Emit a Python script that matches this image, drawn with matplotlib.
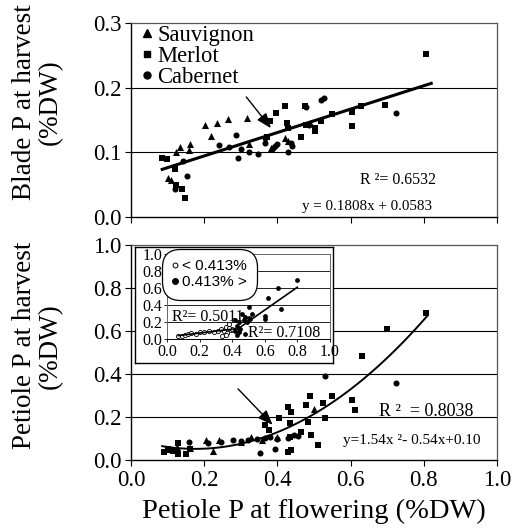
import numpy as np
import matplotlib
matplotlib.use("Agg")
import matplotlib.pyplot as plt
from matplotlib.lines import Line2D

plt.rcParams['font.family'] = ['Liberation Serif', 'DejaVu Serif']

# ---------------- data: top panel (blade P at harvest) ----------------
sauv_top_x = [0.102, 0.110, 0.122, 0.133, 0.157, 0.162, 0.203, 0.218, 0.235, 0.264, 0.317, 0.323, 0.383, 0.421, 0.428, 0.488]
sauv_top_y = [0.060, 0.058, 0.101, 0.109, 0.104, 0.113, 0.142, 0.125, 0.145, 0.151, 0.153, 0.113, 0.106, 0.122, 0.118, 0.146]

merl_top_x = [0.084, 0.097, 0.120, 0.124, 0.138, 0.147, 0.372, 0.380, 0.395, 0.421, 0.426, 0.430, 0.465, 0.476,
              0.477, 0.503, 0.503, 0.518, 0.549, 0.604, 0.604, 0.627, 0.693, 0.805]
merl_top_y = [0.092, 0.089, 0.074, 0.049, 0.043, 0.030, 0.124, 0.148, 0.160, 0.171, 0.145, 0.138, 0.123, 0.171,
              0.142, 0.137, 0.133, 0.149, 0.159, 0.163, 0.140, 0.171, 0.173, 0.252]

cab_top_x = [0.120, 0.143, 0.152, 0.241, 0.268, 0.287, 0.291, 0.323, 0.346, 0.367, 0.387, 0.393, 0.400, 0.428,
             0.437, 0.440, 0.479, 0.486, 0.520, 0.526, 0.723, 0.365, 0.300]
cab_top_y = [0.044, 0.086, 0.064, 0.112, 0.109, 0.127, 0.092, 0.101, 0.098, 0.115, 0.106, 0.110, 0.113, 0.101,
             0.114, 0.110, 0.170, 0.142, 0.181, 0.184, 0.160, 0.122, 0.105]

top_fit_coef = [0.1808, 0.0583]          # y = a x + b
top_fit_range = [0.085, 0.82]

# ---------------- data: bottom panel (petiole P at harvest) ----------------
merl_bot_x = [0.090, 0.100, 0.115, 0.127, 0.127, 0.150, 0.160, 0.366, 0.378, 0.404, 0.428, 0.433, 0.433, 0.438,
              0.428, 0.437, 0.465, 0.479, 0.483, 0.488, 0.492, 0.510, 0.524, 0.529, 0.549, 0.604, 0.611, 0.632,
              0.698, 0.805]
merl_bot_y = [0.039, 0.054, 0.045, 0.078, 0.028, 0.028, 0.050, 0.163, 0.140, 0.197, 0.248, 0.171, 0.110, 0.225,
              0.039, 0.048, 0.129, 0.256, 0.178, 0.299, 0.119, 0.070, 0.264, 0.197, 0.299, 0.279, 0.233, 0.484,
              0.611, 0.687]

cab_bot_x = [0.159, 0.210, 0.246, 0.278, 0.300, 0.320, 0.345, 0.351, 0.365, 0.380, 0.394, 0.400, 0.430, 0.445,
             0.455, 0.529, 0.725]
cab_bot_y = [0.085, 0.082, 0.085, 0.096, 0.090, 0.095, 0.100, 0.034, 0.105, 0.110, 0.054, 0.100, 0.105, 0.115,
             0.112, 0.392, 0.360]

sauv_bot_x = [0.100, 0.125, 0.160, 0.205, 0.225, 0.239, 0.300, 0.328, 0.358, 0.400, 0.501]
sauv_bot_y = [0.050, 0.060, 0.055, 0.093, 0.045, 0.096, 0.085, 0.108, 0.095, 0.110, 0.236]

bot_fit_coef = [1.54, -0.54, 0.10]       # y = a x^2 + b x + c
bot_fit_range = [0.085, 0.81]

# ---------------- data: inset ----------------
inset_low_x = [0.07, 0.09, 0.11, 0.13, 0.15, 0.18, 0.20, 0.23, 0.26, 0.29, 0.31, 0.33, 0.34, 0.35, 0.36, 0.37,
               0.38, 0.39, 0.40, 0.41, 0.36, 0.38]
inset_low_y = [0.04, 0.04, 0.05, 0.06, 0.07, 0.06, 0.08, 0.08, 0.09, 0.08, 0.10, 0.12, 0.03, 0.10, 0.14, 0.07,
               0.18, 0.11, 0.12, 0.22, 0.05, 0.13]
inset_high_x = [0.42, 0.42, 0.43, 0.43, 0.44, 0.45, 0.46, 0.47, 0.48, 0.48, 0.49, 0.50, 0.50, 0.51, 0.52, 0.60,
                0.60, 0.62, 0.68, 0.70, 0.80, 0.44]
inset_high_y = [0.22, 0.10, 0.05, 0.15, 0.20, 0.12, 0.29, 0.22, 0.26, 0.06, 0.20, 0.25, 0.38, 0.23, 0.30, 0.23,
                0.27, 0.48, 0.60, 0.35, 0.70, 0.08]
inset_low_fit = [0.229, 0.024]
inset_low_range = [0.07, 0.42]
inset_high_fit = [1.342, -0.464]
inset_high_range = [0.42, 0.80]

x_ticks = [0.0, 0.2, 0.4, 0.6, 0.8, 1.0]
top_yticks = [0.0, 0.1, 0.2, 0.3]
bot_yticks = [0.0, 0.2, 0.4, 0.6, 0.8, 1.0]
legend_labels = ['Sauvignon', 'Merlot', 'Cabernet']
inset_labels = ['< 0.413%', '0.413% >']

# ---------------- figure ----------------
fig = plt.figure(figsize=(5.2, 5.32), dpi=100)
ax1 = fig.add_axes([0.252, 0.592, 0.704, 0.365])
ax2 = fig.add_axes([0.252, 0.135, 0.704, 0.404])

TICK_FS = 16.5
ms_tri, ms_sq, ms_ci = 26, 17, 19


def style_axes(ax, yticks, ylim, labels_x):
    ax.set_xlim(0, 1.0)
    ax.set_ylim(*ylim)
    ax.set_xticks(x_ticks)
    ax.set_yticks(yticks)
    ax.set_yticklabels(['%.1f' % v for v in yticks], fontsize=TICK_FS)
    if labels_x:
        ax.set_xticklabels(['%.1f' % v for v in x_ticks], fontsize=TICK_FS)
    else:
        ax.set_xticklabels([])
    ax.tick_params(direction='out', length=4, width=0.8, pad=3)
    for v in yticks[1:-1]:
        ax.axhline(v, color='black', lw=0.8, zorder=0)
    for s in ['left', 'bottom']:
        ax.spines[s].set_color('black')
        ax.spines[s].set_linewidth(1.0)
    for s in ['top', 'right']:
        ax.spines[s].set_color('#555555')
        ax.spines[s].set_linewidth(0.9)


style_axes(ax1, top_yticks, (0, 0.3), False)
style_axes(ax2, bot_yticks, (0, 1.0), True)

# top scatter
ax1.scatter(sauv_top_x, sauv_top_y, marker='^', s=ms_tri, c='black', lw=0, zorder=3)
ax1.scatter(merl_top_x, merl_top_y, marker='s', s=ms_sq, c='black', lw=0, zorder=3)
ax1.scatter(cab_top_x, cab_top_y, marker='o', s=ms_ci, c='black', lw=0, zorder=3)
xs = np.linspace(top_fit_range[0], top_fit_range[1], 50)
ax1.plot(xs, np.polyval(top_fit_coef, xs), color='black', lw=2.2, zorder=4)

handles = [Line2D([], [], marker='^', color='black', ls='none', ms=6),
           Line2D([], [], marker='s', color='black', ls='none', ms=5),
           Line2D([], [], marker='o', color='black', ls='none', ms=5)]
leg = ax1.legend(handles, legend_labels, loc='upper left', frameon=False, fontsize=16.3,
                 handlelength=0.6, handletextpad=0.15, labelspacing=0.0,
                 borderaxespad=0.0, borderpad=0.0, bbox_to_anchor=(0.025, 0.99))

ax1.annotate('', xy=(0.387, 0.134), xytext=(0.31, 0.189),
             arrowprops=dict(arrowstyle='-|>,head_length=0.9,head_width=0.35', color='black', lw=1.0))
ax1.text(0.625, 0.058, 'R ²= 0.6532', fontsize=11.5, ha='left', va='center')
ax1.text(0.468, 0.016, 'y = 0.1808x + 0.0583', fontsize=10.8, ha='left', va='center')

# bottom scatter
ax2.scatter(sauv_bot_x, sauv_bot_y, marker='^', s=ms_tri, c='black', lw=0, zorder=3)
ax2.scatter(merl_bot_x, merl_bot_y, marker='s', s=ms_sq, c='black', lw=0, zorder=3)
ax2.scatter(cab_bot_x, cab_bot_y, marker='o', s=ms_ci, c='black', lw=0, zorder=3)
xs2 = np.linspace(bot_fit_range[0], bot_fit_range[1], 100)
ax2.plot(xs2, np.polyval(bot_fit_coef, xs2), color='black', lw=1.4, zorder=4)
ax2.annotate('', xy=(0.392, 0.155), xytext=(0.287, 0.341),
             arrowprops=dict(arrowstyle='-|>,head_length=0.9,head_width=0.35', color='black', lw=1.0))
ax2.text(0.677, 0.225, 'R ²  = 0.8038', fontsize=13, ha='left', va='center')
ax2.text(0.58, 0.09, 'y=1.54x ²- 0.54x+0.10', fontsize=11, ha='left', va='center')

ax2.set_xlabel('Petiole P at flowering (%DW)', fontsize=20.5, labelpad=6)

fig.text(0.0715, 0.808, 'Blade P at harvest\n(%DW)', rotation=90, ha='center', va='center',
         fontsize=19.5, multialignment='center', linespacing=1.05)
fig.text(0.0715, 0.35, 'Petiole P at harvest\n(%DW)', rotation=90, ha='center', va='center',
         fontsize=19.5, multialignment='center', linespacing=1.05)

# inset frame box
box = fig.add_axes([0.2596, 0.318, 0.3808, 0.218])
box.set_xticks([]); box.set_yticks([])
box.set_facecolor('white')
for s in box.spines.values():
    s.set_color('black'); s.set_linewidth(1.0)

ins = fig.add_axes([167 / 520, 1 - 339 / 532, 163 / 520, 85 / 532])
ins.set_xlim(0, 1.0); ins.set_ylim(0, 1.0)
ins.set_xticks(x_ticks); ins.set_yticks(bot_yticks)
ins.set_xticklabels(['%.1f' % v for v in x_ticks], fontsize=11.5)
ins.set_yticklabels(['%.1f' % v for v in bot_yticks], fontsize=11.5)
ins.tick_params(direction='out', length=2.5, width=0.6, pad=1.0)
for v in bot_yticks[1:-1]:
    ins.axhline(v, color='black', lw=0.6, zorder=0)
for s in ins.spines.values():
    s.set_color('#666666'); s.set_linewidth(0.7)
ins.spines['bottom'].set_color('black')
ins.scatter(inset_low_x, inset_low_y, marker='o', s=9, facecolors='white', edgecolors='black', lw=0.6, zorder=3)
ins.scatter(inset_high_x, inset_high_y, marker='o', s=12, c='black', lw=0, zorder=3)
xl = np.linspace(*inset_low_range, 10)
ins.plot(xl, np.polyval(inset_low_fit, xl), color='black', lw=1.2, zorder=4)
xh = np.linspace(*inset_high_range, 10)
ins.plot(xh, np.polyval(inset_high_fit, xh), color='black', lw=1.2, zorder=4)
ins.text(0.03, 0.26, 'R²= 0.5011', fontsize=11.5, ha='left', va='center')
ins.text(0.50, 0.07, 'R²= 0.7108', fontsize=11.5, ha='left', va='center')

ih = [Line2D([], [], marker='o', ls='none', mfc='white', mec='black', ms=3.5, mew=0.7),
      Line2D([], [], marker='o', ls='none', color='black', ms=4)]
ileg = ins.legend(ih, inset_labels, loc='upper left', frameon=True,
                  prop={'family': 'Liberation Sans', 'size': 11},
                  handlelength=0.4, handletextpad=0.2, labelspacing=0.1, borderpad=0.3,
                  bbox_to_anchor=(0.0, 1.0), borderaxespad=0.05, fancybox=True)
fr = ileg.get_frame()
fr.set_edgecolor('black'); fr.set_linewidth(0.9); fr.set_alpha(1)
fr.set_boxstyle('round,pad=0.4,rounding_size=1.2')

fig.savefig('out.png', dpi=100)
